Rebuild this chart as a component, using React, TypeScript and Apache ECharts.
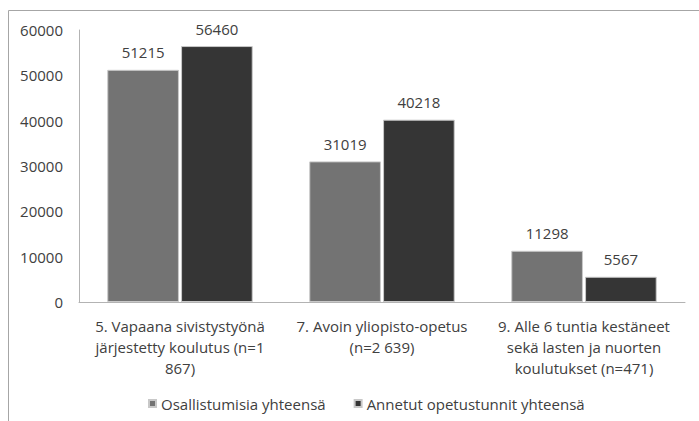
import React, { useEffect, useRef } from "react";
import * as echarts from "echarts";

const categories = [
  "5. Vapaana sivistystyönä\njärjestetty koulutus (n=1\n867)",
  "7. Avoin yliopisto-opetus\n(n=2 639)",
  "9. Alle 6 tuntia kestäneet\nsekä lasten ja nuorten\nkoulutukset (n=471)",
];
const osallistumisia = [51215, 31019, 11298];
const opetustunnit = [56460, 40218, 5567];
const seriesNames = ["Osallistumisia yhteensä", "Annetut opetustunnit yhteensä"];

const FONT = "Open Sans";
const FS = 15;
const TXT = "#404040";

export default function App() {
  const ref = useRef<HTMLDivElement>(null);
  useEffect(() => {
    const chart = echarts.init(ref.current!, null, { renderer: "svg" });
    chart.setOption({
      animation: false,
      backgroundColor: "#ffffff",
      textStyle: { fontFamily: FONT },
      graphic: [
        {
          type: "rect",
          shape: { x: 8.5, y: 10.5, width: 720, height: 440 },
          style: { fill: "none", stroke: "#a6a6a6", lineWidth: 1 },
          silent: true,
        },
      ],
      grid: { left: 79, right: 14, top: 30, bottom: 119, containLabel: false },
      legend: {
        left: 143,
        top: 391,
        itemWidth: 7,
        itemHeight: 7,
        itemGap: 28,
        icon: "rect",
        textStyle: { fontFamily: FONT, fontSize: FS, color: TXT },
        data: seriesNames,
      },
      xAxis: {
        type: "category",
        data: categories,
        axisLine: { lineStyle: { color: "#b3b3b3" } },
        axisTick: { show: false },
        axisLabel: {
          interval: 0,
          margin: 13,
          fontFamily: FONT,
          fontSize: FS,
          lineHeight: 21,
          color: TXT,
          align: "center",
        },
      },
      yAxis: {
        type: "value",
        min: 0,
        max: 60000,
        interval: 10000,
        splitLine: { show: false },
        axisLine: { show: true, lineStyle: { color: "#b3b3b3" } },
        axisTick: { show: false },
        axisLabel: {
          margin: 16,
          fontFamily: FONT,
          fontSize: FS,
          color: TXT,
          formatter: (v: number) => String(v),
        },
      },
      series: [
        {
          name: seriesNames[0],
          type: "bar",
          data: osallistumisia,
          barGap: "3%",
          barCategoryGap: "28%",
          itemStyle: { color: "#737373", borderColor: "#c8c8c8", borderWidth: 1 },
          label: {
            show: true,
            position: "top",
            distance: 10,
            fontFamily: FONT,
            fontSize: FS,
            color: TXT,
          },
        },
        {
          name: seriesNames[1],
          type: "bar",
          data: opetustunnit,
          itemStyle: { color: "#353535", borderColor: "#c8c8c8", borderWidth: 1 },
          label: {
            show: true,
            position: "top",
            distance: 10,
            fontFamily: FONT,
            fontSize: FS,
            color: TXT,
          },
        },
      ],
    });
    return () => chart.dispose();
  }, []);
  return (
    <div
      ref={ref}
      style={{ position: "fixed", left: 0, top: 0, width: 699, height: 421 }}
    />
  );
}
